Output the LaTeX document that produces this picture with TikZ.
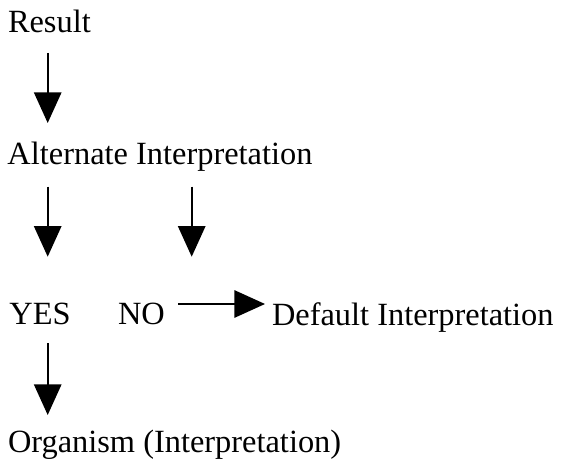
\documentclass[tikz,border=0pt]{standalone}
\usepackage{fontspec}
\setmainfont{Liberation Serif}
\usetikzlibrary{arrows.meta}
\begin{document}
\begin{tikzpicture}[x=0.75pt,y=-0.75pt,
  lbl/.style={anchor=base west,inner sep=0pt,outer sep=0pt,font=\fontsize{24.3}{29}\selectfont},
  arr/.style={line width=1.5pt,-{Triangle[width=20.5pt,length=23pt]}}]
\useasboundingbox (0,0) rectangle (561,460);
\node[lbl] (res) at (8,32.7) {Result};
\node[lbl] (alt) at (7.5,165) {Alternate Interpretation};
\node[lbl] (yes) at (9.5,324) {YES};
\node[lbl] (no) at (118,324) {NO};
\node[lbl] (def) at (272,325) {Default Interpretation};
\node[lbl] (org) at (8,452) {Organism (Interpretation)};
\coordinate (a1s) at (47.7,53);   \coordinate (a1e) at (47.7,123);
\coordinate (a2s) at (47.7,186.7); \coordinate (a2e) at (47.7,256.7);
\coordinate (a3s) at (191.7,186.7); \coordinate (a3e) at (191.7,256.7);
\coordinate (a4s) at (178,304);  \coordinate (a4e) at (265,304);
\coordinate (a5s) at (47.7,343); \coordinate (a5e) at (47.7,415);
\draw[arr] (a1s) -- (a1e);
\draw[arr] (a2s) -- (a2e);
\draw[arr] (a3s) -- (a3e);
\draw[arr] (a4s) -- (a4e);
\draw[arr] (a5s) -- (a5e);
\end{tikzpicture}
\end{document}
